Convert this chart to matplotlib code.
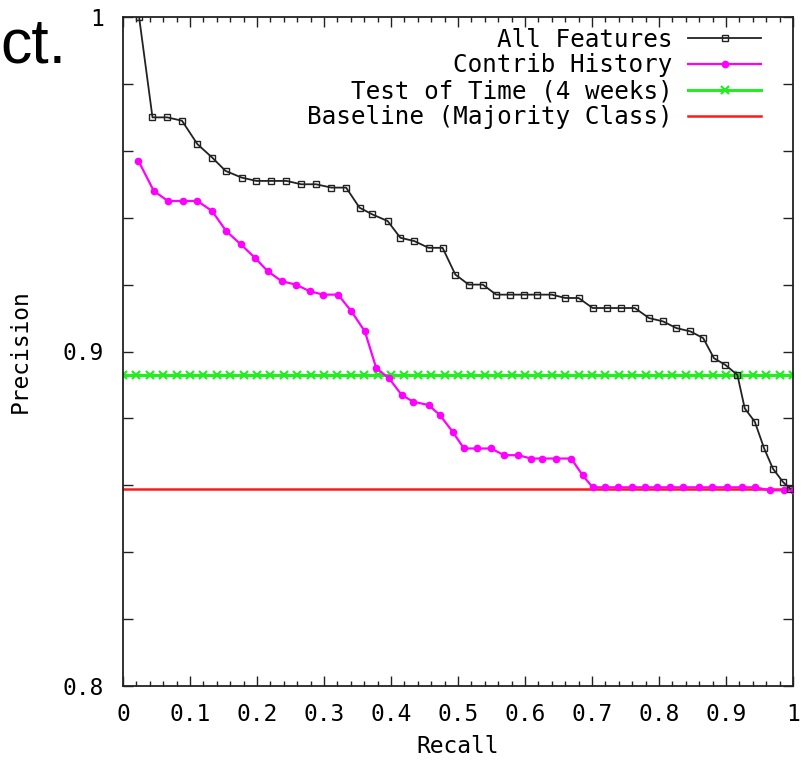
import matplotlib.pyplot as plt
from matplotlib.ticker import MultipleLocator, FuncFormatter

# --- precision / recall points ---
all_recall = [0.024, 0.044, 0.066, 0.088, 0.111, 0.133, 0.153, 0.177, 0.199, 0.221,
              0.244, 0.266, 0.288, 0.311, 0.333, 0.353, 0.372, 0.395, 0.414, 0.435,
              0.456, 0.477, 0.496, 0.516, 0.537, 0.557, 0.577, 0.598, 0.618, 0.640,
              0.660, 0.680, 0.701, 0.722, 0.743, 0.764, 0.785, 0.806, 0.826, 0.847,
              0.866, 0.882, 0.899, 0.917, 0.928, 0.943, 0.957, 0.970, 0.985, 0.996]
all_prec = [1.000, 0.970, 0.970, 0.969, 0.962, 0.958, 0.954, 0.952, 0.951, 0.951,
            0.951, 0.950, 0.950, 0.949, 0.949, 0.943, 0.941, 0.939, 0.934, 0.933,
            0.931, 0.931, 0.923, 0.920, 0.920, 0.917, 0.917, 0.917, 0.917, 0.917,
            0.916, 0.916, 0.913, 0.913, 0.913, 0.913, 0.910, 0.909, 0.907, 0.906,
            0.904, 0.898, 0.896, 0.893, 0.883, 0.879, 0.871, 0.865, 0.861, 0.859]

contrib_recall = [0.023, 0.046, 0.067, 0.089, 0.111, 0.133, 0.154, 0.176, 0.197, 0.216,
                  0.237, 0.258, 0.279, 0.299, 0.321, 0.341, 0.361, 0.378, 0.397, 0.416,
                  0.433, 0.456, 0.473, 0.492, 0.509, 0.529, 0.549, 0.569, 0.590, 0.609,
                  0.626, 0.647, 0.669, 0.686, 0.701, 0.719, 0.739, 0.759, 0.779, 0.797,
                  0.816, 0.836, 0.859, 0.879, 0.901, 0.924, 0.944, 0.965, 0.986, 1.000]
contrib_prec = [0.957, 0.948, 0.945, 0.945, 0.945, 0.942, 0.936, 0.932, 0.928, 0.924,
                0.921, 0.920, 0.918, 0.917, 0.917, 0.912, 0.906, 0.895, 0.892, 0.887,
                0.885, 0.884, 0.881, 0.876, 0.871, 0.871, 0.871, 0.869, 0.869, 0.868,
                0.868, 0.868, 0.868, 0.863, 0.8594, 0.8594, 0.8594, 0.8594, 0.8594, 0.8594,
                0.8594, 0.8594, 0.8594, 0.8594, 0.8594, 0.8594, 0.8594, 0.8585, 0.8585, 0.8585]

tot_recall = [0.00, 0.02, 0.04, 0.06, 0.08, 0.10, 0.12, 0.14, 0.16, 0.18,
              0.20, 0.22, 0.24, 0.26, 0.28, 0.30, 0.32, 0.34, 0.36, 0.38,
              0.40, 0.42, 0.44, 0.46, 0.48, 0.50, 0.52, 0.54, 0.56, 0.58,
              0.60, 0.62, 0.64, 0.66, 0.68, 0.70, 0.72, 0.74, 0.76, 0.78,
              0.80, 0.82, 0.84, 0.86, 0.88, 0.90, 0.92, 0.94, 0.96, 0.98, 1.00]
tot_prec = 0.893          # test of time (4 weeks), constant
baseline_prec = 0.8588    # majority class

labels = ["All Features", "Contrib History", "Test of Time (4 weeks)", "Baseline (Majority Class)"]

mono = "DejaVu Sans Mono"
fs = 16.5
fs_leg = 17.5

fig = plt.figure(figsize=(8.04, 7.6), dpi=100)
ax = fig.add_axes([0.153, 0.0974, 0.8333, 0.8802])

ax.plot(all_recall, all_prec, color="#222222", lw=1.3, marker="s", ms=5,
        mfc="none", mec="#222222", mew=1.0, label=labels[0], zorder=4)
ax.plot(contrib_recall, contrib_prec, color="#ff00ff", lw=1.6, marker="o", ms=4.5,
        label=labels[1], zorder=3)
ax.plot(tot_recall, [tot_prec] * len(tot_recall), color="#22ee22", lw=2.2, marker="x",
        ms=6, mew=1.6, label=labels[2], zorder=2)
ax.axhline(baseline_prec, color="#ff1a1a", lw=1.8, label=labels[3], zorder=2)

ax.set_xlim(0, 1)
ax.set_ylim(0.8, 1.0)

# gnuplot-style ticks: inward, mirrored
ax.xaxis.set_major_locator(MultipleLocator(0.1))
ax.xaxis.set_minor_locator(MultipleLocator(0.02))
ax.yaxis.set_major_locator(MultipleLocator(0.02))
ax.xaxis.set_major_formatter(FuncFormatter(lambda v, p: "%g" % round(v, 2)))
ax.yaxis.set_major_formatter(
    FuncFormatter(lambda v, p: "%g" % round(v, 2) if abs(round(v * 10) - v * 10) < 1e-6 else ""))
ax.tick_params(which="both", direction="in", top=True, right=True, width=1.0, color="#222222")
ax.tick_params(which="major", length=7)
ax.tick_params(which="minor", length=3.5)
ax.tick_params(axis="x", which="major", pad=12)
ax.tick_params(axis="y", which="major", pad=14)
for lbl in ax.get_xticklabels() + ax.get_yticklabels():
    lbl.set_fontfamily(mono)
    lbl.set_fontsize(fs)
for sp in ax.spines.values():
    sp.set_linewidth(1.3)
    sp.set_color("#222222")

ax.set_xlabel("Recall", fontfamily=mono, fontsize=fs, labelpad=7)
ax.set_ylabel("Precision", fontfamily=mono, fontsize=fs, labelpad=22)

leg = ax.legend(loc="upper right", bbox_to_anchor=(0.985, 1.017), frameon=False,
                markerfirst=False, numpoints=1, handlelength=3.0, handletextpad=0.65,
                labelspacing=0.08, prop={"family": mono, "size": fs_leg})

# slide text fragment in the corner
fig.text(0.001, 0.918, "ct.", fontfamily="Liberation Sans", fontsize=45, ha="left", va="baseline")

fig.savefig("out.png", dpi=100)
